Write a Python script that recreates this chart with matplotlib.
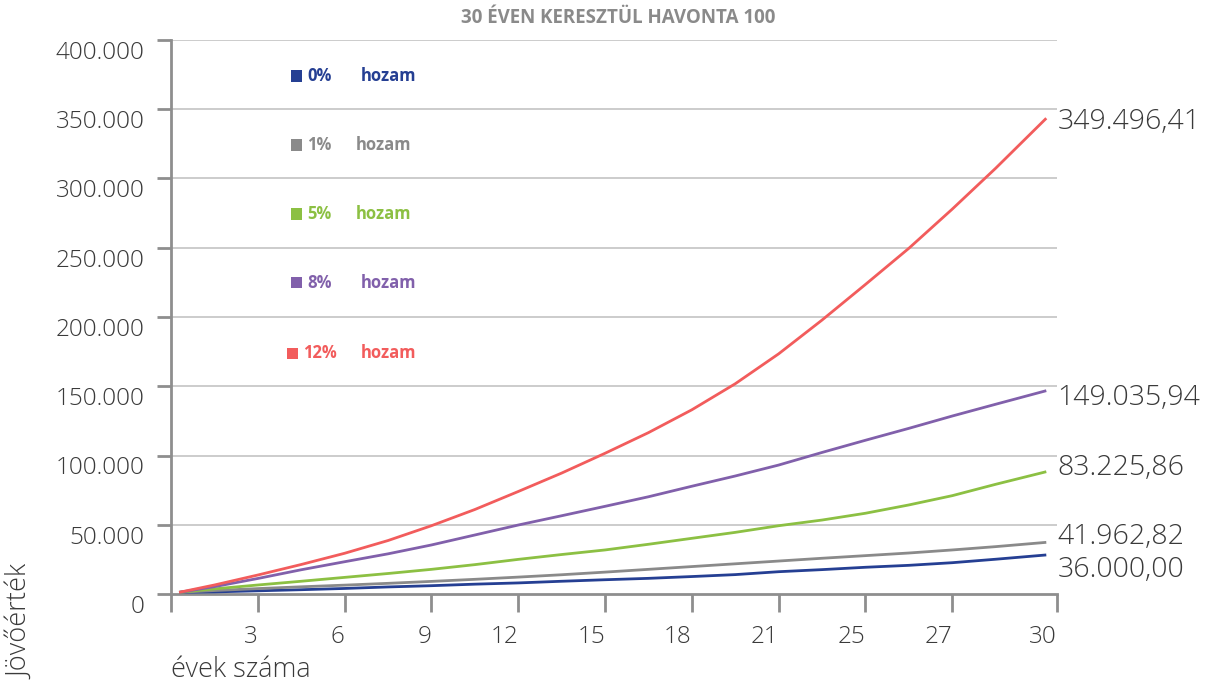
import matplotlib
matplotlib.use("Agg")
import matplotlib.pyplot as plt
from matplotlib.patches import Rectangle
import matplotlib.transforms as mtransforms

plt.rcParams['font.family'] = ['Open Sans', 'DejaVu Sans']

# ---------------- data ----------------
years = [0.28, 1.5, 3, 4.5, 6, 7.5, 9, 10.5, 12, 13.5, 15, 16.5, 18, 19.5,
         21, 22.5, 24, 25.5, 27, 28.5, 30.25]
fv_0 = [1200, 1500, 2300, 3100, 4000, 5100, 6000, 7100, 8000, 9200, 10300,
        11300, 12600, 14000, 16100, 17600, 19300, 20700, 22600, 25100, 28200]
fv_1 = [1200, 2500, 3900, 5200, 6400, 7700, 9100, 10600, 12200, 13900, 15800,
        17800, 19800, 21800, 23800, 25800, 27700, 29600, 31800, 34200, 37300]
fv_5 = [1200, 3700, 6500, 9200, 12000, 14800, 17800, 21200, 25000, 28500, 31800,
        35900, 40200, 44500, 49300, 53400, 58300, 64300, 71000, 79200, 88300]
fv_8 = [1200, 5300, 11200, 17500, 23300, 29000, 35400, 42600, 49800, 56500, 63300,
        70200, 77800, 85200, 93100, 102200, 111000, 119600, 128500, 137000, 146800]
fv_12 = [1200, 6500, 13700, 21300, 29400, 38600, 49300, 61000, 74000, 87300, 101600,
         116500, 133000, 151800, 173400, 197800, 223500, 249600, 277900, 307400, 343500]

series_names = ["0%", "1%", "5%", "8%", "12%"]
end_labels = ["36.000,00", "41.962,82", "83.225,86", "149.035,94", "349.496,41"]
x_tick_labels = ["3", "6", "9", "12", "15", "18", "21", "25", "27", "30"]
y_ticks = [0, 50000, 100000, 150000, 200000, 250000, 300000, 350000, 400000]
y_tick_labels = ["0", "50.000", "100.000", "150.000", "200.000", "250.000",
                 "300.000", "350.000", "400.000"]
title = "30 ÉVEN KERESZTÜL HAVONTA 100"
x_title = "évek száma"
y_title = "Jövőérték"
legend_word = "hozam"

# ---------------- styling ----------------
colors = ["#253f93", "#8a8a8a", "#8cc043", "#8160ab", "#f25c5c"]
label_offsets = [-11, 4, 3, -5, -3]          # points, vertical offset of end labels
spine_col = "#8e8e8e"
text_col = "#3a3a3a"
light = 'light'
x_max = 30.62

fig = plt.figure(figsize=(12.10, 6.85), dpi=100)
ax = fig.add_axes([171/1210, 1-594/685, (1057-171)/1210, (594-40)/685])

series = [fv_0, fv_1, fv_5, fv_8, fv_12]
for vals, c in zip(series, colors):
    ax.plot(years, vals, color=c, lw=2.0, solid_capstyle='butt',
            solid_joinstyle='round', zorder=3)

ax.set_xlim(0, x_max)
ax.set_ylim(0, 400000)

# grid
for yv in y_ticks[1:]:
    ax.axhline(yv, color="#c4c4c4", lw=1.2, zorder=1)

# spines
for s in ["top", "right"]:
    ax.spines[s].set_visible(False)
for s in ["left", "bottom"]:
    ax.spines[s].set_color(spine_col)
    ax.spines[s].set_linewidth(2.0)
    ax.spines[s].set_zorder(2)

# ticks
xt = [0, 3, 6, 9, 12, 15, 18, 21, 24, 27, x_max]
ax.set_xticks(xt)
ax.set_xticklabels([""] + x_tick_labels, ha='right', fontweight=light)
ax.set_yticks(y_ticks)
ax.set_yticklabels(y_tick_labels, fontweight=light)
ax.tick_params(axis='x', length=13, width=2.0, color=spine_col, pad=9,
               labelsize=17.5, labelcolor=text_col)
ax.tick_params(axis='y', length=10, width=2.0, color=spine_col, pad=9,
               labelsize=17.5, labelcolor=text_col)
for lab in ax.get_yticklabels():
    lab.set_transform(lab.get_transform() +
                      mtransforms.ScaledTranslation(0, -10/100, fig.dpi_scale_trans))

# end labels
for vals, txt, off in zip(series, end_labels, label_offsets):
    ax.annotate(txt, xy=(1.0, vals[-1]), xycoords=('axes fraction', 'data'),
                xytext=(0.5, off), textcoords='offset points',
                ha='left', va='center', fontsize=20.5, color=text_col,
                fontweight=light, annotation_clip=False)

# title & axis titles
fig.text(618/1210, 1-18/685, title, ha='center', va='center', fontsize=13.5,
         fontweight='bold', color="#8a8a8a")
fig.text(171/1210, 1-670/685, x_title, ha='left', va='center', fontsize=19.5,
         color=text_col, fontweight=light)
fig.text(21/1210, 1-565/685, y_title, ha='center', va='top', rotation=90,
         fontsize=19.5, color=text_col, fontweight=light)

# legend (manual)
leg_y = [76, 145, 214, 283, 353]
sq_x = [291, 291, 291, 291, 287]
pct_x = [307, 307, 307, 307, 303]
word_x = [361, 356, 356, 361, 361]
for name, c, yy, sx, px, wx in zip(series_names, colors, leg_y, sq_x, pct_x, word_x):
    fig.patches.append(Rectangle((sx/1210, 1-(yy+5.5)/685), 11/1210, 11/685,
                                 transform=fig.transFigure, facecolor=c,
                                 edgecolor='none'))
    fig.text(px/1210, 1-yy/685, name, ha='left', va='center', fontsize=12,
             fontweight='bold', color=c)
    fig.text(wx/1210, 1-yy/685, legend_word, ha='left', va='center', fontsize=12,
             fontweight='bold', color=c)

fig.savefig("out.png", dpi=100)
